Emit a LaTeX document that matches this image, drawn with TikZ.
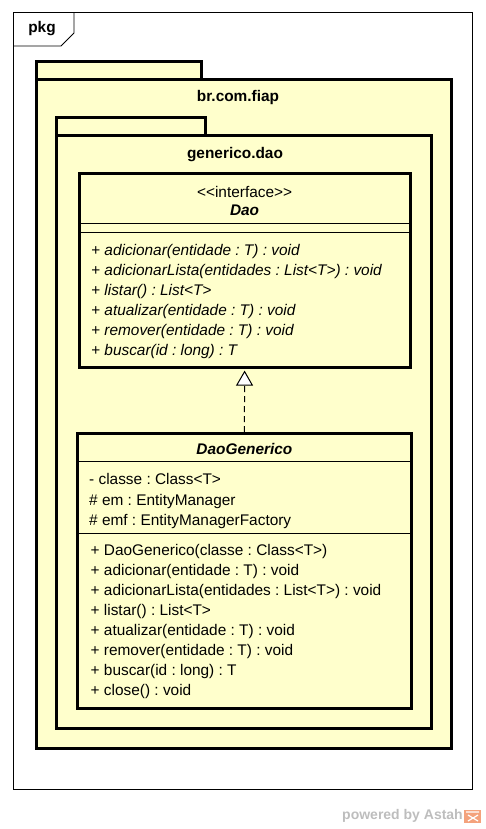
\documentclass[tikz,border=0pt]{standalone}
\usepackage{fontspec}
\setmainfont[Ligatures=TeXOff]{Liberation Sans}
\frenchspacing
\usetikzlibrary{arrows.meta}
\definecolor{umlyellow}{HTML}{FFFFCC}
\definecolor{astahgray}{HTML}{BDBDBD}
\definecolor{astahorange}{HTML}{F4A27C}
\tikzset{
  umlfont/.style={font=\fontsize{15.4}{18}\selectfont},
  pkgbox/.style={draw, line width=3pt, fill=umlyellow},
  classbox/.style={draw, line width=3pt, fill=umlyellow, rectangle, inner sep=0pt},
  member/.style={umlfont, anchor=west, inner sep=0pt, text height=11pt, text depth=3pt},
  abstractop/.style={member, font=\fontsize{15.4}{18}\selectfont\itshape},
  realize/.style={dashed, dash pattern=on 6pt off 4pt, line width=1pt,
    -{Triangle[open, width=17pt, length=15pt, line width=1pt, fill=white]}},
}
\begin{document}
\begin{tikzpicture}[x=1pt,y=-1pt]
\useasboundingbox (0,0) rectangle (486,829);
% diagram frame
\draw[line width=1pt] (13,13) rectangle (472,789);
\draw[line width=0.8pt] (13,46) -- (61,46) -- (74,33) -- (74,13);
\node[umlfont, font=\fontsize{15.4}{18}\selectfont\bfseries] (pkg) at (42,29) {pkg};

% package br.com.fiap
\draw[pkgbox] (36.5,61.5) rectangle (201.5,80);
\draw[pkgbox] (36.5,80) rectangle (451.5,748.5);
\node[umlfont, font=\fontsize{15.4}{18}\selectfont\bfseries] (fiap) at (238,98) {br.com.fiap};

% package generico.dao
\draw[pkgbox] (56.5,117.5) rectangle (205.5,136);
\draw[pkgbox] (56.5,136) rectangle (431.5,728.5);
\node[umlfont, font=\fontsize{15.4}{18}\selectfont\bfseries] (dao pkg) at (235,155) {generico.dao};

% interface Dao
\node[classbox, minimum width=331pt, minimum height=194pt] (dao) at (244.6,270.6) {};
\draw[line width=1pt] (79.3,223.3) -- (410,223.3);
\draw[line width=1pt] (79.3,232.7) -- (410,232.7);
\node[umlfont] (stereo) at (244.6,191.7) {<<interface>>};
\node[umlfont, font=\fontsize{15.4}{18}\selectfont\bfseries\itshape] (dao name) at (244.6,210) {Dao};
\node[abstractop] (dao op1) at (91,251) {+ adicionar(entidade : T) : void};
\node[abstractop] (dao op2) at (91,271) {+ adicionarLista(entidades : List<T>) : void};
\node[abstractop] (dao op3) at (91,291) {+ listar() : List<T>};
\node[abstractop] (dao op4) at (91,311) {+ atualizar(entidade : T) : void};
\node[abstractop] (dao op5) at (91,331) {+ remover(entidade : T) : void};
\node[abstractop] (dao op6) at (91,351) {+ buscar(id : long) : T};

% class DaoGenerico
\node[classbox, minimum width=334pt, minimum height=275pt] (generico) at (244.4,571.2) {};
\draw[line width=1pt] (77.3,461.7) -- (411.5,461.7);
\draw[line width=1pt] (77.3,533.3) -- (411.5,533.3);
\node[umlfont, font=\fontsize{15.4}{18}\selectfont\bfseries\itshape] (generico name) at (244.4,449.3) {DaoGenerico};
\node[member] (attr1) at (89,480.5) {- classe : Class<T>};
\node[member] (attr2) at (89,501) {\# em : EntityManager};
\node[member] (attr3) at (89,521) {\# emf : EntityManagerFactory};
\node[member] (gen op1) at (90.5,551.7) {+ DaoGenerico(classe : Class<T>)};
\node[member] (gen op2) at (90.5,571.7) {+ adicionar(entidade : T) : void};
\node[member] (gen op3) at (90.5,591.7) {+ adicionarLista(entidades : List<T>) : void};
\node[member] (gen op4) at (90.5,611.7) {+ listar() : List<T>};
\node[member] (gen op5) at (90.5,631.7) {+ atualizar(entidade : T) : void};
\node[member] (gen op6) at (90.5,651.7) {+ remover(entidade : T) : void};
\node[member] (gen op7) at (90.5,671.7) {+ buscar(id : long) : T};
\node[member] (gen op8) at (90.5,691.7) {+ close() : void};

% realization
\draw[realize] (generico.north) -- ([yshift=-1.5pt]dao.south);

% watermark
\node[anchor=east, inner sep=0pt, text=astahgray, font=\fontsize{14}{16}\selectfont\bfseries] (powered) at (463,816) {powered by Astah};
\fill[astahorange] (464,809.5) rectangle (481,823);
\draw[white, line width=1.2pt] (466,812) -- (479,812) (468,815) -- (478,821) (478,815) -- (468,821);
\end{tikzpicture}
\end{document}
